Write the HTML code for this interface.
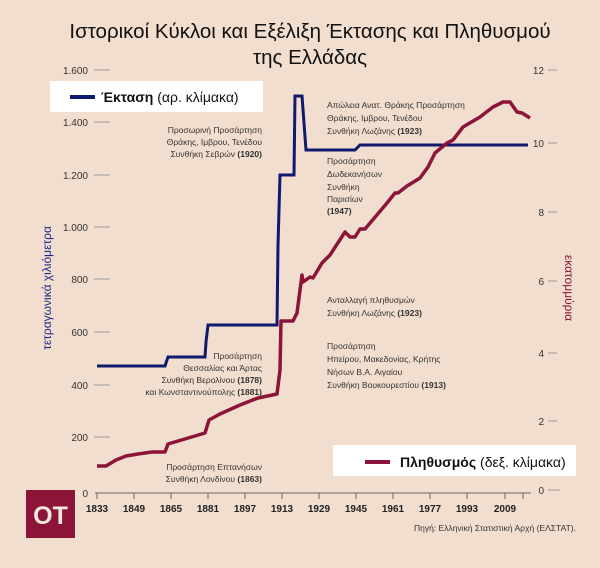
<!DOCTYPE html>
<html><head><meta charset="utf-8"><style>
html,body{margin:0;padding:0;background:#f2dece;}
svg{display:block;font-family:"Liberation Sans","DejaVu Sans",sans-serif;}
</style></head><body>
<svg width="600" height="568" viewBox="0 0 600 568" xmlns="http://www.w3.org/2000/svg">
<rect width="600" height="568" fill="#f2dece"/>
<text x="310" y="38" text-anchor="middle" font-size="20.5" fill="#111">Ιστορικοί Κύκλοι και Εξέλιξη Έκτασης και Πληθυσμού</text>
<text x="310" y="64" text-anchor="middle" font-size="20.5" fill="#111">της Ελλάδας</text>
<g font-size="10" fill="#333" text-anchor="end">
<text x="88" y="74">1.600</text><text x="88" y="126">1.400</text><text x="88" y="179">1.200</text>
<text x="88" y="231">1.000</text><text x="88" y="283">800</text><text x="88" y="336">600</text>
<text x="88" y="389">400</text><text x="88" y="441">200</text><text x="88" y="497">0</text>
</g>
<g stroke="#999" stroke-width="1">
<line x1="94" y1="70" x2="110" y2="70"/><line x1="94" y1="122" x2="110" y2="122"/><line x1="94" y1="175" x2="110" y2="175"/>
<line x1="94" y1="227" x2="110" y2="227"/><line x1="94" y1="279" x2="110" y2="279"/><line x1="94" y1="332" x2="110" y2="332"/>
<line x1="94" y1="385" x2="110" y2="385"/><line x1="94" y1="437" x2="110" y2="437"/>
<line x1="548" y1="70" x2="557" y2="70"/><line x1="548" y1="143" x2="557" y2="143"/><line x1="548" y1="212" x2="557" y2="212"/>
<line x1="548" y1="281" x2="557" y2="281"/><line x1="548" y1="353" x2="557" y2="353"/><line x1="548" y1="421" x2="557" y2="421"/>
<line x1="548" y1="490" x2="560" y2="490"/>
</g>
<g font-size="10" fill="#333" text-anchor="end">
<text x="544" y="74">12</text><text x="544" y="147">10</text><text x="544" y="216">8</text>
<text x="544" y="285">6</text><text x="544" y="357">4</text><text x="544" y="425">2</text><text x="544" y="494">0</text>
</g>
<text transform="translate(51,288) rotate(-90)" text-anchor="middle" font-size="12" fill="#1e2a8c">τετραγωνικά χιλιόμετρα</text>
<text transform="translate(565,288) rotate(90)" text-anchor="middle" font-size="12" fill="#8b1438">εκατομμύρια</text>
<line x1="95" y1="493" x2="531" y2="493" stroke="#666" stroke-width="1"/>
<g stroke="#666" stroke-width="1">
<line x1="97" y1="493" x2="97" y2="499"/><line x1="134" y1="493" x2="134" y2="499"/><line x1="171" y1="493" x2="171" y2="499"/>
<line x1="208" y1="493" x2="208" y2="499"/><line x1="245" y1="493" x2="245" y2="499"/><line x1="282" y1="493" x2="282" y2="499"/>
<line x1="319" y1="493" x2="319" y2="499"/><line x1="356" y1="493" x2="356" y2="499"/><line x1="393" y1="493" x2="393" y2="499"/>
<line x1="430" y1="493" x2="430" y2="499"/><line x1="467" y1="493" x2="467" y2="499"/><line x1="505" y1="493" x2="505" y2="499"/>
<line x1="523" y1="493" x2="523" y2="499"/>
</g>
<g font-size="10" fill="#222" font-weight="bold" text-anchor="middle">
<text x="97" y="512">1833</text><text x="134" y="512">1849</text><text x="171" y="512">1865</text>
<text x="208" y="512">1881</text><text x="245" y="512">1897</text><text x="282" y="512">1913</text>
<text x="319" y="512">1929</text><text x="356" y="512">1945</text><text x="393" y="512">1961</text>
<text x="430" y="512">1977</text><text x="467" y="512">1993</text><text x="505" y="512">2009</text>
</g>
<polyline fill="none" stroke="#0f1a6e" stroke-width="3" stroke-linejoin="miter" points="97,366 165,366 168,357 205,357 206,342 208,325 277,325 278,245 280,175 294,175 295,96 302,96 306,150 355,150 360,145 528,145"/>
<polyline fill="none" stroke="#8b1438" stroke-width="3.5" stroke-linejoin="round" points="97,466 106,466 116,460 126,456 138,454 152,452 165,452 168,444 205,433 209,420 220,414 240,405 258,398 277,394 280,370 281,321 293,321 297,313 302,275 303,282 310,277 313,278 322,263 330,255 345,232 350,237 355,237 360,229 365,229 387,203 395,193 398,193 407,186 420,178 428,167 435,153 447,143 453,140 463,127 480,117 493,107 503,102 510,102 517,112 522,113 530,118"/>
<rect x="50" y="81" width="213" height="31" fill="#fff"/>
<line x1="70" y1="97" x2="95" y2="97" stroke="#0f1a6e" stroke-width="4"/>
<text x="101" y="102" font-size="14" fill="#111"><tspan font-weight="bold">Έκταση</tspan> (αρ. κλίμακα)</text>
<rect x="333" y="445" width="243" height="31" fill="#fff"/>
<line x1="365" y1="462" x2="390" y2="462" stroke="#8b1438" stroke-width="4"/>
<text x="400" y="467" font-size="14" fill="#111"><tspan font-weight="bold">Πληθυσμός</tspan> (δεξ. κλίμακα)</text>
<g font-size="8.5" fill="#333">
<g text-anchor="end">
<text x="262" y="133">Προσωρινή Προσάρτηση</text>
<text x="262" y="145">Θράκης, Ιμβρου, Τενέδου</text>
<text x="262" y="157">Συνθήκη Σεβρών <tspan font-weight="bold">(1920)</tspan></text>
<text x="262" y="359">Προσάρτηση</text>
<text x="262" y="371">Θεσσαλίας και Άρτας</text>
<text x="262" y="383">Συνθήκη Βερολίνου <tspan font-weight="bold">(1878)</tspan></text>
<text x="262" y="395">και Κωνσταντινούπολης <tspan font-weight="bold">(1881)</tspan></text>
<text x="262" y="470">Προσάρτηση Επτανήσων</text>
<text x="262" y="482">Συνθήκη Λονδίνου <tspan font-weight="bold">(1863)</tspan></text>
</g>
<text x="327" y="108">Απώλεια Ανατ. Θράκης Προσάρτηση</text>
<text x="327" y="121">Θράκης, Ιμβρου, Τενέδου</text>
<text x="327" y="134">Συνθήκη Λωζάνης <tspan font-weight="bold">(1923)</tspan></text>
<text x="327" y="164">Προσάρτηση</text>
<text x="327" y="177">Δωδεκανήσων</text>
<text x="327" y="190">Συνθήκη</text>
<text x="327" y="202">Παρισίων</text>
<text x="327" y="214" font-weight="bold">(1947)</text>
<text x="327" y="303">Ανταλλαγή πληθυσμών</text>
<text x="327" y="316">Συνθήκη Λωζάνης <tspan font-weight="bold">(1923)</tspan></text>
<text x="327" y="349">Προσάρτηση</text>
<text x="327" y="362">Ηπείρου, Μακεδονίας, Κρήτης</text>
<text x="327" y="375">Νήσων Β.Α. Αιγαίου</text>
<text x="327" y="388">Συνθήκη Βουκουρεστίου <tspan font-weight="bold">(1913)</tspan></text>
</g>
<text x="576" y="531" text-anchor="end" font-size="8.5" fill="#333">Πηγή: Ελληνική Στατιστική Αρχή (ΕΛΣΤΑΤ).</text>
<rect x="26" y="490" width="49" height="48" fill="#8a1538"/>
<text x="50.5" y="524" text-anchor="middle" font-size="25" font-weight="bold" fill="#f6e6dc">OT</text>
</svg>
</body></html>
